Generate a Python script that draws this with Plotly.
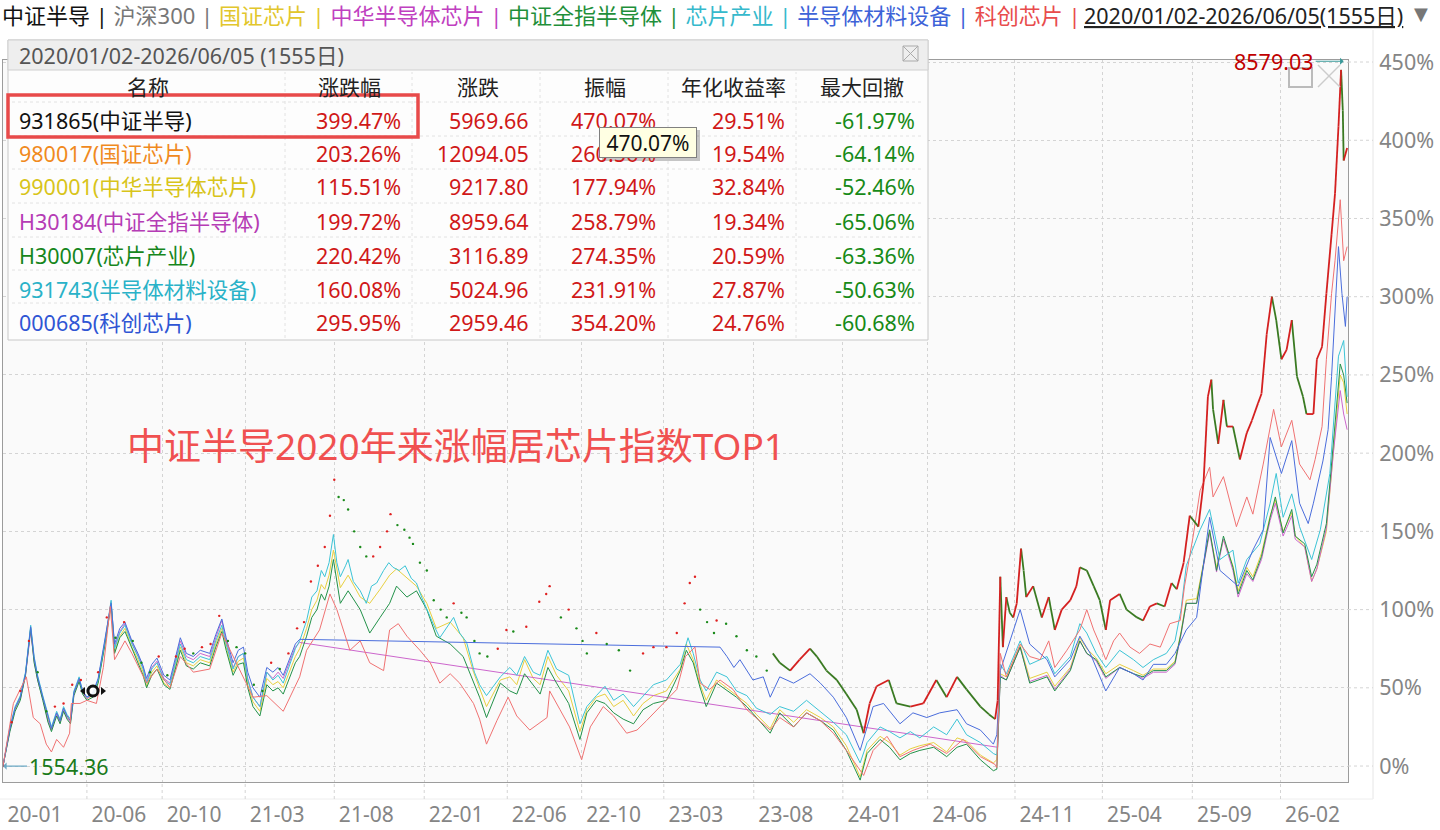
import plotly.graph_objects as go

W, H = 1440, 830
FONT = "Noto Sans, Noto Sans CJK SC, sans-serif"

x_tick_days = [0, 97, 184, 280, 383, 487, 583, 669, 764, 868, 971, 1069, 1170, 1271, 1375, 1477]
x_tick_labels = ["20-01", "20-06", "20-10", "21-03", "21-08", "22-01", "22-06", "22-10",
                 "23-03", "23-08", "24-01", "24-06", "24-11", "25-04", "25-09", "26-02"]
y_tick_vals = [0, 50, 100, 150, 200, 250, 300, 350, 400, 450]
y_tick_labels = ["0%", "50%", "100%", "150%", "200%", "250%", "300%", "350%", "400%", "450%"]

cyan_pts = [(0,0),(8,25),(14,38),(20,45),(26,60),(32,90),(36,70),(40,58),(46,45),(52,32),(56,25),(62,35),(66,30),(70,38),(74,33),(78,30),(82,48),(88,57),(92,48),(97,44),(104,46),(110,55),(118,80),(125,106),(129,75),(135,85),(141,90),(149,78),(156,70),(162,62),(166,53),(172,62),(178,66),(186,55),(193,52),(199,65),(205,78),(212,68),(220,66),(228,70),(239,68),(246,80),(253,90),(258,78),(266,62),(272,70),(278,72),(283,55),(289,44),(297,38),(305,60),(312,55),(318,58),(324,53),(332,65),(338,75),(343,80),(351,93),(357,108),(363,112),(368,125),(372,121),(377,130),(382,148),(386,130),(390,121),(396,128),(399,132),(405,118),(413,112),(420,104),(426,115),(432,117),(440,125),(446,130),(451,127),(458,125),(465,128),(472,120),(478,117),(484,108),(490,100),(498,90),(505,82),(512,88),(521,95),(528,85),(536,79),(545,60),(551,52),(559,45),(575,57),(586,63),(594,58),(603,70),(613,60),(621,58),(630,74),(640,62),(654,58),(667,27),(675,38),(686,45),(696,51),(706,42),(717,46),(729,38),(740,45),(752,52),(767,55),(783,65),(792,82),(798,72),(806,55),(813,48),(825,60),(837,57),(848,48),(860,45),(871,37),(887,33),(898,38),(914,35),(929,42),(945,35),(960,28),(975,20),(991,2),(999,15),(1014,25),(1025,22),(1037,18),(1049,22),(1060,18),(1076,25),(1091,20),(1103,30),(1114,20),(1130,15),(1145,8),(1149,7),(1153,65),(1160,59),(1176,80),(1187,65),(1207,70),(1216,59),(1234,70),(1245,91),(1253,85),(1264,72),(1275,63),(1291,74),(1307,68),(1318,63),(1330,68),(1345,72),(1355,80),(1362,100),(1368,128),(1384,151),(1395,164),(1407,132),(1422,138),(1428,117),(1438,132),(1453,142),(1465,168),(1472,187),(1480,159),(1490,174),(1499,153),(1513,132),(1523,151),(1534,187),(1544,262),(1550,272),(1554,236)]

green_pts = [(0,0),(8,22),(14,35),(20,42),(26,58),(32,88),(36,66),(40,55),(46,42),(52,28),(56,22),(62,32),(66,27),(70,35),(74,30),(78,27),(82,45),(88,54),(92,46),(97,42),(104,44),(110,53),(118,78),(125,104),(129,72),(135,82),(141,86),(149,75),(156,66),(162,58),(166,50),(172,58),(178,62),(186,52),(193,49),(199,62),(205,74),(212,64),(220,62),(228,66),(239,64),(246,76),(253,86),(258,74),(266,58),(272,65),(278,66),(283,50),(289,38),(297,32),(305,52),(312,48),(318,50),(324,46),(332,57),(338,66),(343,70),(351,83),(357,95),(363,100),(368,110),(372,106),(377,115),(382,132),(390,104),(399,112),(413,100),(424,85),(436,95),(447,104),(455,115),(467,108),(478,112),(490,100),(501,83),(517,78),(532,70),(544,53),(551,44),(559,31),(575,53),(586,48),(594,46),(603,59),(613,52),(621,46),(630,63),(640,53),(654,40),(667,17),(675,34),(686,42),(696,40),(706,34),(717,30),(729,27),(740,36),(752,40),(767,42),(783,61),(790,74),(798,66),(806,50),(813,38),(825,53),(837,48),(848,44),(860,38),(871,31),(887,21),(898,34),(914,25),(929,34),(945,29),(960,23),(975,10),(991,-9),(999,8),(1014,17),(1025,12),(1037,4),(1049,8),(1060,10),(1076,12),(1091,6),(1103,12),(1114,14),(1130,4),(1145,-3),(1149,-2),(1153,57),(1160,55),(1176,76),(1187,53),(1207,57),(1216,48),(1234,61),(1245,80),(1253,72),(1264,68),(1275,57),(1291,63),(1307,59),(1318,57),(1330,61),(1345,61),(1355,66),(1362,85),(1368,104),(1380,104),(1395,151),(1403,125),(1411,147),(1422,127),(1428,110),(1438,125),(1445,119),(1455,134),(1465,159),(1471,172),(1480,149),(1490,164),(1494,147),(1505,142),(1513,121),(1519,129),(1530,155),(1538,204),(1546,257),(1550,250),(1554,232)]

yellow_pts = [(0,0),(8,24),(14,36),(20,44),(26,59),(32,88),(36,68),(40,56),(46,44),(52,30),(56,24),(62,34),(66,29),(70,37),(74,32),(78,29),(82,47),(88,55),(92,47),(97,43),(104,45),(110,54),(118,79),(125,103),(129,73),(135,83),(141,88),(149,76),(156,68),(162,60),(166,51),(172,60),(178,64),(186,53),(193,50),(199,63),(205,76),(212,66),(220,64),(228,68),(239,66),(246,78),(253,88),(258,76),(266,60),(272,67),(278,69),(283,52),(289,41),(297,35),(305,56),(312,52),(318,54),(324,50),(332,61),(338,70),(343,75),(351,88),(357,100),(363,106),(368,116),(372,113),(377,122),(382,138),(390,114),(399,122),(413,108),(424,104),(436,113),(447,122),(455,126),(467,120),(478,115),(490,104),(501,88),(517,92),(532,82),(544,60),(551,50),(559,38),(575,55),(586,57),(594,52),(603,68),(613,56),(621,52),(630,70),(640,58),(654,48),(667,22),(675,36),(686,44),(696,46),(706,38),(717,42),(729,32),(740,40),(752,45),(767,48),(783,62),(790,78),(798,68),(806,52),(813,42),(825,55),(837,50),(848,45),(860,40),(871,33),(887,24),(898,36),(914,28),(929,36),(945,31),(960,25),(975,13),(991,-7),(999,10),(1014,19),(1025,15),(1037,7),(1049,11),(1060,13),(1076,15),(1091,9),(1103,18),(1114,16),(1130,7),(1145,2),(1149,4),(1153,59),(1160,57),(1176,77),(1187,56),(1207,60),(1216,51),(1234,63),(1245,82),(1253,75),(1264,69),(1275,59),(1291,65),(1307,61),(1318,58),(1330,62),(1345,62),(1355,67),(1362,86),(1368,106),(1380,107),(1395,150),(1403,127),(1411,145),(1422,128),(1428,112),(1438,127),(1445,121),(1455,136),(1465,160),(1471,170),(1480,150),(1490,162),(1494,147),(1505,140),(1513,118),(1519,126),(1530,150),(1538,198),(1546,250),(1550,245),(1554,225)]

magenta_pts = [(0,0),(8,23),(14,37),(20,43),(26,58),(32,86),(36,67),(40,55),(46,43),(52,29),(56,23),(62,33),(66,28),(70,36),(74,31),(78,28),(82,46),(88,55),(92,47),(97,43),(104,46),(110,55),(118,80),(125,105),(129,76),(135,86),(141,91),(149,79),(156,71),(162,63),(166,54),(172,63),(178,67),(186,56),(193,53),(199,66),(205,80),(212,70),(220,68),(228,72),(239,70),(246,82),(253,93),(258,80),(266,63),(272,70),(278,72),(283,56),(289,44),(297,38),(305,60),(312,56),(318,60),(324,56),(332,68),(338,76),(343,79),(1150,12),(1153,58),(1160,55),(1176,76),(1187,54),(1207,58),(1216,49),(1234,62),(1245,80),(1253,72),(1264,67),(1275,56),(1291,63),(1307,59),(1318,56),(1330,60),(1345,60),(1355,65),(1362,84),(1368,104),(1380,104),(1395,149),(1403,124),(1411,145),(1422,125),(1428,108),(1438,123),(1445,118),(1455,132),(1465,157),(1471,168),(1480,147),(1490,160),(1494,145),(1505,140),(1513,118),(1519,126),(1530,152),(1538,200),(1546,240),(1550,225),(1554,215)]

blue_pts = [(0,0),(8,24),(14,37),(20,44),(26,59),(32,89),(36,69),(40,57),(46,44),(52,31),(56,24),(62,34),(66,29),(70,37),(74,32),(78,29),(82,47),(88,56),(92,48),(97,44),(104,47),(110,56),(118,82),(125,104),(129,78),(135,88),(141,92),(149,80),(156,72),(162,64),(166,56),(172,65),(178,69),(186,58),(193,55),(199,68),(205,82),(212,72),(220,70),(228,74),(239,72),(246,84),(253,94),(258,82),(266,66),(272,74),(278,76),(283,60),(289,50),(297,44),(305,63),(312,60),(318,63),(324,58),(332,70),(338,78),(343,81),(829,76),(837,70),(845,63),(852,68),(860,61),(867,55),(879,57),(887,44),(898,57),(914,53),(933,59),(945,53),(960,44),(975,31),(991,10),(1006,38),(1018,40),(1037,27),(1052,34),(1068,31),(1083,34),(1103,36),(1114,27),(1130,23),(1145,14),(1149,20),(1153,61),(1176,100),(1187,78),(1207,68),(1216,57),(1234,68),(1245,83),(1257,72),(1275,48),(1291,63),(1307,59),(1318,55),(1330,65),(1345,65),(1355,72),(1362,80),(1368,87),(1380,95),(1395,159),(1407,125),(1428,115),(1445,138),(1457,151),(1465,210),(1472,198),(1478,187),(1490,208),(1499,168),(1509,155),(1515,168),(1526,195),(1532,215),(1536,249),(1544,332),(1548,302),(1552,281),(1554,300)]

pink_pts = [(0,0),(6,20),(12,40),(19,48),(27,57),(35,31),(43,27),(50,14),(56,9),(62,17),(70,12),(77,21),(79,40),(89,40),(97,42),(108,40),(116,63),(124,102),(129,68),(141,80),(149,72),(166,53),(178,62),(193,50),(205,70),(220,60),(239,62),(253,85),(266,70),(289,44),(305,45),(324,35),(343,57),(351,74),(366,87),(378,110),(386,100),(401,74),(413,80),(424,66),(440,61),(447,87),(457,91),(467,83),(482,74),(494,66),(505,53),(517,59),(528,53),(544,40),(551,30),(559,14),(571,29),(584,44),(594,32),(609,23),(629,31),(632,48),(644,36),(655,25),(669,4),(679,25),(694,38),(706,32),(721,21),(733,23),(744,29),(760,38),(779,49),(789,70),(800,76),(806,53),(817,49),(829,55),(844,49),(860,36),(875,29),(887,23),(898,31),(914,25),(929,34),(945,29),(960,21),(975,10),(995,-6),(1006,10),(1022,19),(1037,6),(1052,10),(1072,14),(1091,8),(1110,17),(1130,6),(1147,1),(1149,-1),(1153,72),(1160,57),(1176,78),(1187,70),(1199,68),(1209,80),(1216,63),(1230,74),(1245,87),(1253,100),(1261,87),(1268,78),(1275,68),(1284,80),(1291,85),(1303,76),(1314,72),(1326,78),(1338,76),(1349,91),(1361,93),(1366,115),(1372,134),(1376,147),(1384,176),(1395,191),(1399,172),(1411,185),(1426,153),(1438,172),(1445,161),(1457,193),(1469,228),(1478,204),(1490,221),(1499,193),(1511,183),(1517,196),(1525,217),(1530,260),(1536,302),(1540,323),(1546,362),(1550,323),(1554,332)]

zzbd_early_pts = [(0,0),(10,28),(20,48),(30,80),(40,60),(50,35),(60,38),(70,40),(80,52),(90,55),(100,50),(110,60),(120,95),(130,82),(140,92),(150,80),(160,66),(170,60),(180,70),(190,58),(200,70),(210,75),(220,72),(230,76),(240,78),(250,96),(260,80),(270,76),(280,72),(290,52),(300,48),(310,66),(320,62),(330,72),(340,88),(348,92),(356,118),(364,128),(372,140),(378,160),(383,183),(388,172),(394,170),(399,164),(406,150),(413,140),(420,134),(428,134),(436,140),(444,150),(448,161),(456,154),(464,151),(470,146),(474,142),(482,130),(490,125),(498,106),(506,100),(513,95),(521,104),(530,98),(536,95),(545,80),(551,72),(560,70),(572,75),(582,87),(590,86),(605,89),(620,105),(628,110),(632,115),(645,95),(654,100),(663,88),(670,80),(675,72),(686,85),(698,78),(712,74),(725,61),(740,72),(752,76),(767,76),(779,85),(788,104),(794,117),(800,121),(806,100),(814,92),(822,85),(825,93),(836,91),(848,83),(860,74),(871,70),(883,61)]
zzbd_pts = [(890,72),(898,66),(910,61),(921,68),(933,75),(941,70),(952,61),(964,55),(975,46),(987,36),(995,21),(1002,40),(1010,51),(1024,55),(1033,40),(1049,38),(1064,40),(1079,55),(1091,44),(1103,57),(1114,49),(1130,38),(1140,33),(1147,30),(1150,42),(1153,121),(1156,76),(1160,108),(1164,98),(1168,95),(1172,104),(1177,139),(1180,125),(1183,108),(1191,115),(1201,95),(1209,108),(1216,87),(1224,100),(1234,106),(1241,115),(1245,127),(1253,125),(1261,115),(1268,106),(1275,87),(1280,106),(1291,110),(1299,100),(1311,95),(1318,93),(1326,102),(1334,104),(1343,102),(1351,117),(1357,113),(1365,130),(1372,160),(1382,153),(1388,181),(1393,236),(1397,247),(1399,228),(1405,206),(1411,234),(1415,217),(1422,217),(1430,196),(1438,213),(1444,221),(1451,232),(1455,238),(1461,276),(1467,300),(1472,285),(1478,260),(1484,266),(1490,285),(1496,249),(1503,236),(1507,225),(1515,225),(1519,260),(1525,268),(1530,302),(1536,340),(1540,366),(1544,409),(1547,445),(1549,419),(1550,387),(1554,395)]
zzbd_first_value = "1554.36"
zzbd_max_value = "8579.03"

legend_names = ["中证半导", "沪深300", "国证芯片", "中华半导体芯片", "中证全指半导体", "芯片产业", "半导体材料设备", "科创芯片"]
legend_colors = ["#111111", "#777777", "#e2c62c", "#c040c0", "#1f8f3a", "#36b9cc", "#3d63d8", "#e84c4c"]
period_text = "2020/01/02-2026/06/05(1555日)"
table_title = "2020/01/02-2026/06/05 (1555日)"

table_headers = ["名称", "涨跌幅", "涨跌", "振幅", "年化收益率", "最大回撤"]
table_names = ["931865(中证半导)", "980017(国证芯片)", "990001(中华半导体芯片)", "H30184(中证全指半导体)",
               "H30007(芯片产业)", "931743(半导体材料设备)", "000685(科创芯片)"]
table_name_colors = ["#111111", "#f08a1e", "#d8c41a", "#b53cb5", "#16861c", "#2ab2c8", "#2f55d4"]
table_chg_pct = ["399.47%", "203.26%", "115.51%", "199.72%", "220.42%", "160.08%", "295.95%"]
table_chg = ["5969.66", "12094.05", "9217.80", "8959.64", "3116.89", "5024.96", "2959.46"]
table_amp = ["470.07%", "260.56%", "177.94%", "258.79%", "274.35%", "231.91%", "354.20%"]
table_ann = ["29.51%", "19.54%", "32.84%", "19.34%", "20.59%", "27.87%", "24.76%"]
table_mdd = ["-61.97%", "-64.14%", "-52.46%", "-65.06%", "-63.36%", "-50.63%", "-60.68%"]
tooltip_text = "470.07%"
headline = "中证半导2020年来涨幅居芯片指数TOP1"


def X(px):
    return px / W


def Y(py):
    return 1 - py / H


fig = go.Figure()

line_series = [
    (yellow_pts, "#e8d040"),
    (magenta_pts, "#cc66cc"),
    (green_pts, "#23924a"),
    (cyan_pts, "#3cc4d6"),
    (blue_pts, "#4a6ddc"),
    (pink_pts, "#f07272"),
]
for pts, col in line_series:
    fig.add_trace(go.Scatter(x=[p[0] for p in pts], y=[p[1] for p in pts], mode="lines",
                             line=dict(color=col, width=1), hoverinfo="skip"))

dot_cols = ["#e02020"] + ["#e02020" if b[1] >= a[1] else "#1a8a1a"
                          for a, b in zip(zzbd_early_pts[:-1], zzbd_early_pts[1:])]
fig.add_trace(go.Scatter(x=[p[0] for p in zzbd_early_pts], y=[p[1] for p in zzbd_early_pts],
                         mode="markers", marker=dict(size=2.4, color=dot_cols), hoverinfo="skip"))

ux, uy, dx, dy = [], [], [], []
for a, b in zip(zzbd_pts[:-1], zzbd_pts[1:]):
    if b[1] >= a[1]:
        ux += [a[0], b[0], None]; uy += [a[1], b[1], None]
    else:
        dx += [a[0], b[0], None]; dy += [a[1], b[1], None]
fig.add_trace(go.Scatter(x=dx, y=dy, mode="lines", line=dict(color="#3a7a22", width=1.8), hoverinfo="skip"))
fig.add_trace(go.Scatter(x=ux, y=uy, mode="lines", line=dict(color="#d42020", width=1.8), hoverinfo="skip"))

shapes = []
annotations = []

# faint frame lines outside the plot + grid-line extensions
shapes.append(dict(type="line", xref="paper", yref="paper", x0=X(1373), x1=X(1373), y0=Y(30), y1=Y(799),
                   line=dict(color="#e6e6e6", width=1)))
shapes.append(dict(type="line", xref="paper", yref="paper", x0=X(0), x1=X(1373), y0=Y(799), y1=Y(799),
                   line=dict(color="#eeeeee", width=1)))
for d in x_tick_days[1:]:
    shapes.append(dict(type="line", xref="x", yref="paper", x0=d, x1=d, y0=Y(799), y1=Y(782),
                       line=dict(color="#d4d4d4", width=1, dash="dot")))
for v in y_tick_vals:
    shapes.append(dict(type="line", xref="paper", yref="y", x0=X(1348), x1=X(1373), y0=v, y1=v,
                       line=dict(color="#d4d4d4", width=1, dash="dot")))

# statistics panel
shapes.append(dict(type="rect", xref="paper", yref="paper", x0=X(8), x1=X(928), y0=Y(340), y1=Y(40),
                   fillcolor="#fdfdfd", line=dict(color="#c8c8c8", width=1), layer="above"))
shapes.append(dict(type="rect", xref="paper", yref="paper", x0=X(8), x1=X(928), y0=Y(70), y1=Y(40),
                   fillcolor="#eeeeee", line=dict(color="#d0d0d0", width=1), layer="above"))
for ry in [102, 136, 169, 203, 237, 270, 303]:
    shapes.append(dict(type="line", xref="paper", yref="paper", x0=X(12), x1=X(924), y0=Y(ry), y1=Y(ry),
                       line=dict(color="#e2e2e2", width=1, dash="dot"), layer="above"))
for cx in [285, 412, 540, 668, 796]:
    shapes.append(dict(type="line", xref="paper", yref="paper", x0=X(cx), x1=X(cx), y0=Y(338), y1=Y(72),
                       line=dict(color="#e2e2e2", width=1, dash="dot"), layer="above"))
shapes.append(dict(type="rect", xref="paper", yref="paper", x0=X(903), x1=X(918), y0=Y(61), y1=Y(46),
                   line=dict(color="#aaaaaa", width=1), layer="above"))
for (a, b, c, d) in [(903, 46, 918, 61), (903, 61, 918, 46)]:
    shapes.append(dict(type="line", xref="paper", yref="paper", x0=X(a), y0=Y(b), x1=X(c), y1=Y(d),
                       line=dict(color="#aaaaaa", width=1), layer="above"))
shapes.append(dict(type="rect", xref="paper", yref="paper", x0=X(8), x1=X(418), y0=Y(137), y1=Y(95),
                   line=dict(color="#e84a4a", width=3.5), layer="above"))
shapes.append(dict(type="rect", xref="paper", yref="paper", x0=X(602), x1=X(700), y0=Y(161), y1=Y(130),
                   fillcolor="rgba(0,0,0,0.22)", line=dict(width=0), layer="above"))
shapes.append(dict(type="rect", xref="paper", yref="paper", x0=X(1289), x1=X(1312), y0=Y(87), y1=Y(68),
                   line=dict(color="#bbbbbb", width=2), layer="above"))
for (a, b, c, d) in [(1318, 65, 1340, 87), (1318, 87, 1340, 65)]:
    shapes.append(dict(type="line", xref="paper", yref="paper", x0=X(a), y0=Y(b), x1=X(c), y1=Y(d),
                       line=dict(color="#cccccc", width=1.5), layer="above"))
shapes.append(dict(type="circle", xref="paper", yref="paper", x0=X(88), x1=X(98), y0=Y(696), y1=Y(686),
                   line=dict(color="#111111", width=3), fillcolor="rgba(255,255,255,0.9)", layer="above"))
shapes.append(dict(type="path", xref="paper", yref="paper",
                   path=f"M {X(80)} {Y(691)} L {X(85)} {Y(687)} L {X(85)} {Y(695)} Z",
                   fillcolor="#111111", line=dict(width=0), layer="above"))
shapes.append(dict(type="path", xref="paper", yref="paper",
                   path=f"M {X(106)} {Y(691)} L {X(101)} {Y(687)} L {X(101)} {Y(695)} Z",
                   fillcolor="#111111", line=dict(width=0), layer="above"))

parts = []
for n, c in zip(legend_names, legend_colors):
    parts.append(f'<span style="color:{c}">{n} | </span>')
annotations.append(dict(xref="paper", yref="paper", x=X(0), y=Y(15), xanchor="left", yanchor="middle",
                        text="".join(parts), showarrow=False, font=dict(family=FONT, size=22)))
annotations.append(dict(xref="paper", yref="paper", x=X(1082), y=Y(15), xanchor="left", yanchor="middle",
                        text=f"<u>{period_text}</u>", showarrow=False,
                        font=dict(family=FONT, size=21.5, color="#222222")))
annotations.append(dict(xref="paper", yref="paper", x=X(1421), y=Y(14), xanchor="center", yanchor="middle",
                        text="▼", showarrow=False, font=dict(family="DejaVu Sans", size=18, color="#777777")))

annotations.append(dict(xref="paper", yref="paper", x=X(17), y=Y(55), xanchor="left", yanchor="middle",
                        text=table_title, showarrow=False, font=dict(family=FONT, size=21.5, color="#555555")))
head_x = [148, 349, 478, 605, 733, 862]
for hx, ht in zip(head_x, table_headers):
    annotations.append(dict(xref="paper", yref="paper", x=X(hx), y=Y(87), xanchor="center", yanchor="middle",
                            text=ht, showarrow=False, font=dict(family=FONT, size=21, color="#222222")))
row_y = [120, 154, 187, 221, 255, 289, 322]
col_right = [403, 531, 658, 787, 917]
for i, ry in enumerate(row_y):
    annotations.append(dict(xref="paper", yref="paper", x=X(17), y=Y(ry), xanchor="left", yanchor="middle",
                            text=table_names[i], showarrow=False,
                            font=dict(family=FONT, size=21.5, color=table_name_colors[i])))
    vals = [table_chg_pct[i], table_chg[i], table_amp[i], table_ann[i], table_mdd[i]]
    cols = ["#d01818", "#d01818", "#d01818", "#d01818", "#178a17"]
    for cx, v, c in zip(col_right, vals, cols):
        annotations.append(dict(xref="paper", yref="paper", x=X(cx), y=Y(ry), xanchor="right", yanchor="middle",
                                text=v, showarrow=False, font=dict(family=FONT, size=21.5, color=c)))

# hover tooltip that sits on top of the table (as in the source screenshot)
annotations.append(dict(xref="paper", yref="paper", x=X(599), y=Y(127), xanchor="left", yanchor="top",
                        width=96, height=29, align="center", valign="middle", bgcolor="#ffffe3",
                        bordercolor="#808080", borderwidth=1, borderpad=0,
                        text=tooltip_text, showarrow=False, font=dict(family=FONT, size=21, color="#111111")))

annotations.append(dict(xref="paper", yref="paper", x=X(456), y=Y(445), xanchor="center", yanchor="middle",
                        text=headline, showarrow=False, font=dict(family=FONT, size=37, color="#f05050")))

annotations.append(dict(x=0, y=0, xref="x", yref="y", text=zzbd_first_value, showarrow=True,
                        xanchor="left", yanchor="middle",
                        arrowhead=1, arrowsize=1, arrowwidth=1.2, arrowcolor="#6aa8c4", ax=24, ay=0,
                        standoff=0, font=dict(family=FONT, size=21.5, color="#1a7a1a")))
annotations.append(dict(x=1550, y=450.5, xref="x", yref="y", text=zzbd_max_value, showarrow=True,
                        xanchor="right", yanchor="middle",
                        arrowhead=1, arrowsize=1, arrowwidth=1.2, arrowcolor="#3a9a9a", ax=-28, ay=0,
                        standoff=0, font=dict(family=FONT, size=21.5, color="#c00000")))

fig.update_layout(
    width=W, height=H, autosize=False,
    margin=dict(l=0, r=0, t=0, b=0, pad=0, autoexpand=False),
    paper_bgcolor="#ffffff",
    plot_bgcolor="#fafafa",
    showlegend=False,
    hovermode=False,
    shapes=shapes,
    annotations=annotations,
    font=dict(family=FONT),
    xaxis=dict(domain=[X(3), X(1348)], range=[0, 1555], tickmode="array", tickvals=x_tick_days,
               ticktext=x_tick_labels, showgrid=True, gridcolor="#d4d4d4", griddash="dot", gridwidth=1,
               zeroline=False, showline=True, mirror=True, linecolor="#9c9c9c", linewidth=1,
               ticks="", ticklabelshift=32, ticklabelstandoff=14, automargin=False,
               tickfont=dict(family=FONT, size=21, color="#858585")),
    yaxis=dict(domain=[Y(782), Y(60)], range=[-10.2, 451.3], side="right", tickmode="array",
               tickvals=y_tick_vals, ticktext=y_tick_labels, showgrid=True, gridcolor="#d4d4d4",
               griddash="dot", gridwidth=1, zeroline=False, showline=True, mirror=True,
               linecolor="#9c9c9c", linewidth=1, ticks="", ticklabelstandoff=26, automargin=False,
               tickfont=dict(family=FONT, size=21.5, color="#858585")),
)

fig.write_html("out.html", config={"displayModeBar": False},
               post_script="document.body.style.margin='0';document.body.style.overflow='hidden';")
